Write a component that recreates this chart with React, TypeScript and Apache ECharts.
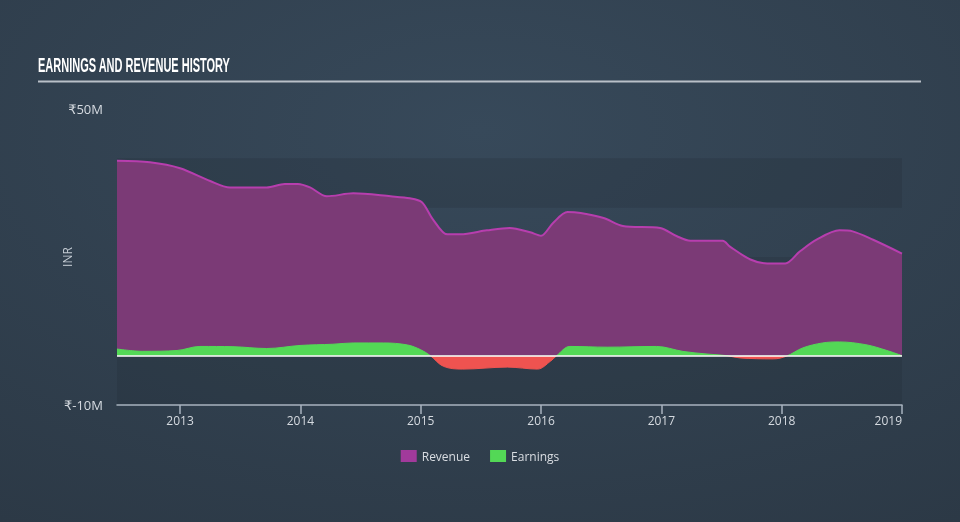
import React, { useEffect, useRef } from "react";
import * as echarts from "echarts";

const yearTicks = [2013, 2014, 2015, 2016, 2017, 2018, 2019];

const revenueYears = [
  2012.476, 2012.75, 2013.0, 2013.25, 2013.415, 2013.72, 2013.87, 2013.98, 2014.08, 2014.22,
  2014.44, 2014.75, 2014.91, 2015.01, 2015.1, 2015.22, 2015.33, 2015.55, 2015.74, 2015.91,
  2016.0, 2016.1, 2016.22, 2016.33, 2016.52, 2016.68, 2016.99, 2017.13, 2017.24, 2017.51,
  2017.57, 2017.74, 2017.88, 2018.03, 2018.15, 2018.29, 2018.48, 2018.59, 2018.76, 2019.0,
];
const revenueValues = [
  39.5, 39.2, 38.0, 35.4, 34.1, 34.1, 34.8, 34.8, 34.1, 32.3,
  32.9, 32.3, 31.9, 31.1, 27.7, 24.6, 24.6, 25.4, 25.9, 25.0,
  24.3, 26.9, 29.1, 28.9, 27.9, 26.3, 25.9, 24.2, 23.3, 23.3,
  22.1, 19.5, 18.7, 18.7, 21.1, 23.5, 25.4, 25.2, 23.5, 20.7,
];

const earningsYears = [
  2012.476, 2012.69, 2012.975, 2013.165, 2013.44, 2013.72, 2013.997, 2014.27, 2014.44, 2014.69,
  2014.89, 2015.0, 2015.08, 2015.19, 2015.35, 2015.72, 2015.97, 2016.08, 2016.13, 2016.24,
  2016.55, 2016.96, 2017.18, 2017.38, 2017.545, 2017.65, 2017.93, 2018.04, 2018.175, 2018.34,
  2018.48, 2018.7, 2018.87, 2019.0,
];
const earningsValues = [
  1.35, 0.88, 1.05, 1.87, 1.82, 1.45, 2.07, 2.32, 2.58, 2.58,
  2.17, 1.2, 0, -2.17, -2.72, -2.32, -2.72, -1.1, 0, 1.87,
  1.72, 1.87, 0.86, 0.33, 0, -0.45, -0.65, -0.1, 1.57, 2.58,
  2.78, 2.22, 1.08, 0,
];

const yTickLabels: Record<number, string> = { 50: "₹50M", [-10]: "₹-10M" };

export default function App() {
  const ref = useRef<HTMLDivElement>(null);

  useEffect(() => {
    if (!ref.current) return;
    const chart = echarts.init(ref.current, undefined, { renderer: "svg" });
    const revenueData = revenueYears.map((x, i) => [x, revenueValues[i]]);
    const earningsData = earningsYears.map((x, i) => [x, earningsValues[i]]);
    const labelFont = "'Open Sans', 'DejaVu Sans', sans-serif";

    chart.setOption({
      animation: false,
      backgroundColor: {
        type: "radial",
        x: 0.5,
        y: 0.25,
        r: 0.9,
        colorStops: [
          { offset: 0, color: "#37495a" },
          { offset: 1, color: "#2c3946" },
        ],
      },
      graphic: [
        {
          type: "text",
          x: 38,
          y: 75,
          scaleX: 0.55,
          silent: true,
          style: {
            text: "EARNINGS AND REVENUE HISTORY",
            fill: "#ffffff",
            fontSize: 20,
            fontWeight: "bold",
            fontFamily: "'Liberation Sans', 'DejaVu Sans', sans-serif",
            textAlign: "left",
            textVerticalAlign: "bottom",
          },
        },
        {
          type: "line",
          shape: { x1: 38, y1: 81.5, x2: 921, y2: 81.5 },
          style: { stroke: "#b9c0c8", lineWidth: 2 },
          silent: true,
        },
      ],
      legend: {
        top: 445,
        left: "center",
        itemWidth: 16,
        itemHeight: 12,
        itemGap: 20,
        icon: "rect",
        textStyle: { color: "#d9dde2", fontSize: 12, fontFamily: labelFont },
        data: ["Revenue", "Earnings"],
      },
      grid: { left: 117, right: 58, top: 109, bottom: 117 },
      xAxis: {
        type: "value",
        min: 2012.476,
        max: 2019.0,
        splitLine: { show: false },
        axisLine: { onZero: false, lineStyle: { color: "#a8b3bf", width: 1.5 } },
        axisTick: {
          show: true,
          customValues: yearTicks,
          length: 9,
          lineStyle: { color: "#a8b3bf", width: 1.5 },
        },
        axisLabel: {
          customValues: yearTicks,
          color: "#d5dae0",
          fontSize: 12,
          fontFamily: labelFont,
          margin: 9,
          alignMaxLabel: "right",
          formatter: (v: number) => String(Math.round(v)),
        },
      },
      yAxis: {
        type: "value",
        min: -10,
        max: 50,
        interval: 10,
        name: "INR",
        nameLocation: "middle",
        nameGap: 44,
        nameMoveOverlap: false,
        nameTextStyle: { color: "#c5ccd4", fontSize: 12, fontFamily: labelFont },
        axisLine: { show: false },
        axisTick: { show: false },
        splitLine: { show: false },
        splitArea: {
          show: true,
          areaStyle: { color: ["rgba(30,40,52,0.22)", "rgba(0,0,0,0)"] },
        },
        axisLabel: {
          color: "#d5dae0",
          fontSize: 13,
          fontFamily: labelFont,
          margin: 14,
          formatter: (v: number) => yTickLabels[v] ?? "",
        },
      },
      visualMap: {
        show: false,
        type: "piecewise",
        seriesIndex: 1,
        dimension: 1,
        pieces: [
          { gte: -10, lt: 0, color: "#ef5350" },
          { gte: 0, lte: 50, color: "#53d856" },
        ],
        outOfRange: { color: "#53d856" },
      },
      series: [
        {
          name: "Revenue",
          type: "line",
          data: revenueData,
          smooth: 0.3,
          showSymbol: false,
          color: "#a13a9b",
          lineStyle: { color: "#b73eae", width: 2 },
          areaStyle: { color: "#7b3a76", opacity: 1 },
          z: 2,
        },
        {
          name: "Earnings",
          type: "line",
          data: earningsData,
          smooth: 0.35,
          showSymbol: false,
          color: "#53d856",
          lineStyle: { width: 1 },
          areaStyle: { opacity: 1 },
          z: 3,
          markLine: {
            silent: true,
            symbol: "none",
            label: { show: false },
            lineStyle: { color: "#ffffff", width: 1.5, type: "solid" },
            data: [{ yAxis: 0 }],
          },
        },
      ],
    });

    return () => chart.dispose();
  }, []);

  return (
    <div
      ref={ref}
      style={{ position: "fixed", left: 0, top: 0, width: 960, height: 522 }}
    />
  );
}
